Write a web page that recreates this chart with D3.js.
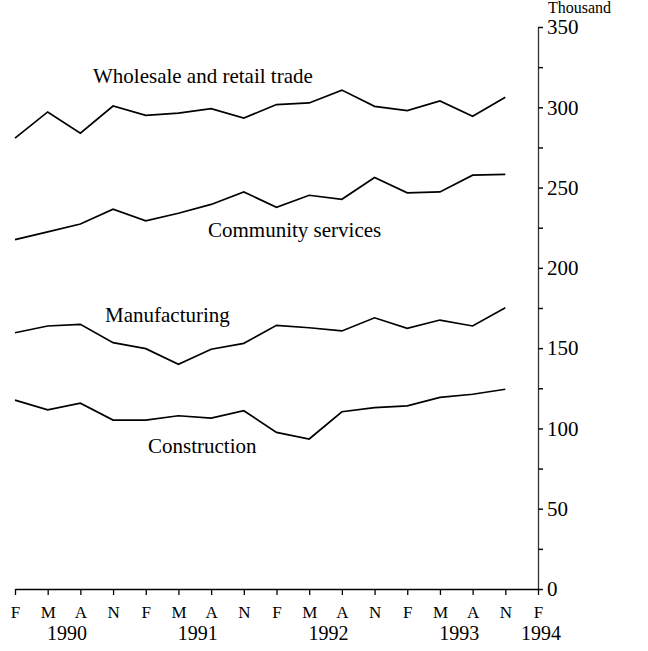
<!DOCTYPE html>
<html>
<head>
<meta charset="utf-8">
<script src="https://cdn.jsdelivr.net/npm/d3@7"></script>
<style>
  body { margin: 0; background: #fff; }
  svg { display: block; font-family: "Liberation Serif", "DejaVu Serif", serif; }
</style>
</head>
<body>
<svg id="chart" width="648" height="651"></svg>
<script>
// quarterly points, Feb 1990 .. Nov 1993
var months = ["F", "M", "A", "N", "F", "M", "A", "N", "F", "M", "A", "N", "F", "M", "A", "N", "F"];
var years = ["1990", "1991", "1992", "1993", "1994"];
var yearAt = [1.5, 5.5, 9.5, 13.5, 16];

var wholesale = [280.8, 297.1, 283.9, 300.8, 295, 296.4, 299.2, 293.3, 301.7, 302.7, 310.7, 300.6, 297.9, 304, 294.4, 306.3];
var community = [217.6, 222.4, 227.3, 236.5, 229.3, 234, 239.5, 247.3, 237.7, 245.2, 242.7, 256.3, 246.7, 247.3, 257.7, 258.2];
var manufacturing = [159.6, 163.8, 164.8, 153.4, 149.7, 140, 149.3, 153, 164.2, 162.7, 160.7, 168.9, 162.3, 167.5, 163.8, 175.2];
var construction = [117.6, 111.6, 115.7, 105.2, 105.2, 107.9, 106.4, 111, 97.5, 93.4, 110.4, 113, 114.1, 119.3, 121.3, 124.4];

var seriesNames = ["Wholesale and retail trade", "Community services", "Manufacturing", "Construction"];
var seriesValues = [wholesale, community, manufacturing, construction];

var svg = d3.select("#chart");

var x = d3.scaleLinear().domain([0, 16]).range([15, 538]);
var y = d3.scaleLinear().domain([0, 350]).range([589, 27]);

// y axis on the right
var yAxis = d3.axisRight(y)
    .tickValues(d3.range(0, 351, 25))
    .tickSize(5)
    .tickSizeOuter(0)
    .tickPadding(4)
    .tickFormat(function(d) { return d % 50 === 0 ? d : ""; });

var gy = svg.append("g")
    .attr("transform", "translate(538,0)")
    .call(yAxis);
gy.select(".domain").attr("stroke", "#333").attr("stroke-width", 1.3);
gy.selectAll(".tick line").attr("stroke", "#111").attr("stroke-width", 1.5);
gy.selectAll(".tick text")
    .attr("fill", "#000")
    .style("font-size", "21px")
    .style("font-family", "Liberation Serif, serif");

// x axis
var xAxis = d3.axisBottom(x)
    .tickValues(d3.range(months.length))
    .tickSize(6)
    .tickSizeOuter(0)
    .tickPadding(11)
    .tickFormat(function(i) { return months[i]; });

var gx = svg.append("g")
    .attr("transform", "translate(0," + y(0) + ")")
    .call(xAxis);
gx.select(".domain").attr("stroke", "#000").attr("stroke-width", 1.6);
gx.selectAll(".tick line").attr("stroke", "#000").attr("stroke-width", 1.3);
gx.selectAll(".tick text")
    .attr("fill", "#000")
    .style("font-size", "17px")
    .style("font-family", "Liberation Serif, serif");

svg.append("g").selectAll("text")
    .data(years)
    .enter()
    .append("text")
    .attr("x", function(d, i) { return x(yearAt[i]) + 3; })
    .attr("y", 640)
    .attr("text-anchor", "middle")
    .style("font-size", "20px")
    .text(function(d) { return d; });

// unit label at the top right
svg.append("text")
    .attr("x", 548)
    .attr("y", 13)
    .style("font-size", "16px")
    .text("Thousand");

// the lines
var line = d3.line()
    .x(function(d, i) { return x(i); })
    .y(function(d) { return y(d); });

svg.append("g").selectAll("path")
    .data(seriesValues)
    .enter()
    .append("path")
    .attr("d", line)
    .attr("fill", "none")
    .attr("stroke", "#000")
    .attr("stroke-width", 1.7)
    .attr("stroke-linejoin", "miter");

// series labels
var labelPos = [[93, 83], [208, 237], [105, 322], [148, 453]];
svg.append("g").selectAll("text")
    .data(seriesNames)
    .enter()
    .append("text")
    .attr("x", function(d, i) { return labelPos[i][0]; })
    .attr("y", function(d, i) { return labelPos[i][1]; })
    .style("font-size", "21px")
    .text(function(d) { return d; });
</script>
</body>
</html>
